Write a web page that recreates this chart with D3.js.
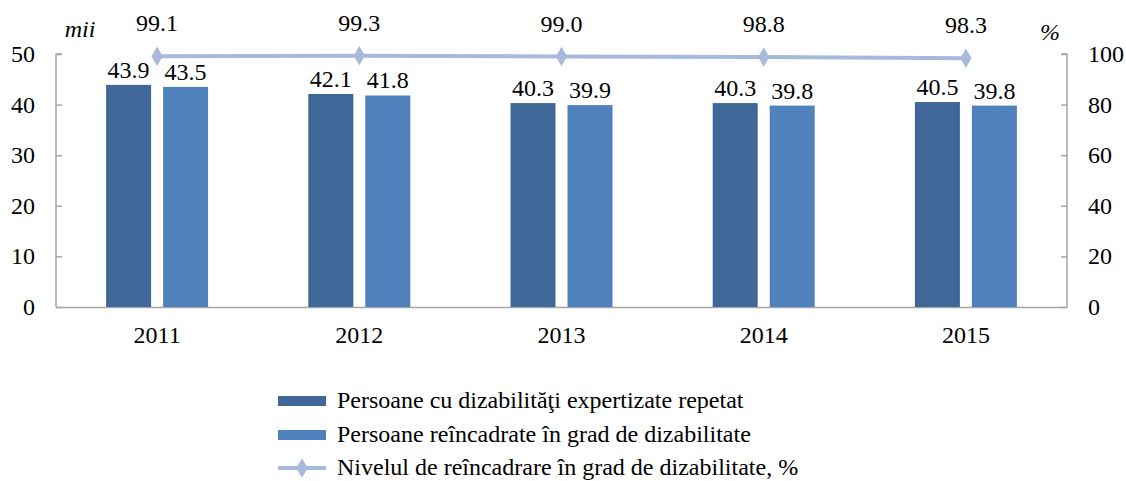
<!DOCTYPE html>
<html><head><meta charset="utf-8">
<script src="https://cdn.jsdelivr.net/npm/d3@7"></script>
<style>body{margin:0;background:#fff}</style>
</head><body><svg id="c" width="1126" height="481"></svg>
<script>
const years = ["2011","2012","2013","2014","2015"];
const repeated = [43.9,42.1,40.3,40.3,40.5];
const reclassified = [43.5,41.8,39.9,39.8,39.8];
const level = [99.1,99.3,99.0,98.8,98.3];
const leftTicks = [0,10,20,30,40,50];
const rightTicks = [0,20,40,60,80,100];
const seriesNames = ["Persoane cu dizabilităţi expertizate repetat","Persoane reîncadrate în grad de dizabilitate","Nivelul de reîncadrare în grad de dizabilitate, %"];
const colors = ["#3F6899","#4F81BD","#A7BADB"];

const FONT = "'Liberation Serif', 'Times New Roman', serif";
const FS = 24;
const svg = d3.select("#c");
const L=56, R=1067, T=54, B=307;
const x = d3.scaleBand().domain(years).range([L,R]);
const yL = d3.scaleLinear().domain([0,50]).range([B,T]);
const yR = d3.scaleLinear().domain([0,100]).range([B,T]);
const barW=45, gap=12;
const axisCol="#A6A6A6";
function txt(sel){ return sel.attr("font-family",FONT).attr("font-size",FS).attr("fill","#000"); }

// axes
const gl = svg.append("g").attr("transform",`translate(${L},0)`)
  .call(d3.axisRight(yL).tickValues(leftTicks).tickSize(6).tickFormat(""));
gl.select(".domain").attr("stroke",axisCol).attr("stroke-width",1.5).attr("d",`M6,${T}H0V${B}`);
gl.selectAll(".tick line").attr("stroke",axisCol).attr("stroke-width",1.5);
txt(svg.append("g").selectAll("text").data(leftTicks).join("text")
  .attr("x",35).attr("y",d=>yL(d)+8).attr("text-anchor","end").text(d=>d));

const gr = svg.append("g").attr("transform",`translate(${R},0)`)
  .call(d3.axisLeft(yR).tickValues(rightTicks).tickSize(6).tickFormat(""));
gr.select(".domain").attr("stroke",axisCol).attr("stroke-width",1.5).attr("d",`M-6,${T}H0V${B}`);
gr.selectAll(".tick line").attr("stroke",axisCol).attr("stroke-width",1.5);
txt(svg.append("g").selectAll("text").data(rightTicks).join("text")
  .attr("x",1088).attr("y",d=>yR(d)+8).attr("text-anchor","start").text(d=>d));

const gb = svg.append("g").attr("transform",`translate(0,${B})`)
  .call(d3.axisBottom(x).tickSize(0).tickFormat(""));
gb.select(".domain").attr("stroke",axisCol).attr("stroke-width",1.5);
txt(svg.append("g").selectAll("text").data(years).join("text")
  .attr("x",d=>x(d)+x.bandwidth()/2).attr("y",343).attr("text-anchor","middle").text(d=>d));

txt(svg.append("text").attr("x",80).attr("y",37).attr("text-anchor","middle").attr("font-style","italic").text("mii"));
txt(svg.append("text").attr("x",1050).attr("y",40).attr("text-anchor","middle").attr("font-style","italic").text("%"));

// bars
const cx = d=>x(d)+x.bandwidth()/2;
[repeated,reclassified].forEach((vals,si)=>{
  const off = si===0 ? -gap/2-barW : gap/2;
  const g = svg.append("g");
  g.selectAll("rect").data(years).join("rect")
    .attr("x",d=>cx(d)+off).attr("width",barW)
    .attr("y",(d,i)=>yL(vals[i])).attr("height",(d,i)=>B-yL(vals[i]))
    .attr("fill",colors[si]);
  txt(g.selectAll("text").data(years).join("text")
    .attr("x",d=>cx(d)+off+barW/2).attr("y",(d,i)=>yL(vals[i])-7)
    .attr("text-anchor","middle").text((d,i)=>vals[i].toFixed(1)));
});

// line
const line = d3.line().x((d,i)=>cx(years[i])).y(d=>yR(d));
svg.append("path").datum(level).attr("d",line).attr("fill","none").attr("stroke",colors[2]).attr("stroke-width",4);
const sym = d3.symbol().type(d3.symbolDiamond).size(110);
svg.append("g").selectAll("path").data(level).join("path")
  .attr("d",sym).attr("transform",(d,i)=>`translate(${cx(years[i])},${yR(d)})`).attr("fill",colors[2]);
txt(svg.append("g").selectAll("text").data(level).join("text")
  .attr("x",(d,i)=>cx(years[i])).attr("y",(d,i)=>yR(d)-25)
  .attr("text-anchor","middle").text(d=>d.toFixed(1)));

// legend
const lg = svg.append("g");
const ly=[401,435,468];
[0,1].forEach(i=>{
  lg.append("rect").attr("x",278).attr("y",ly[i]-5).attr("width",48).attr("height",10).attr("fill",colors[i]);
});
lg.append("line").attr("x1",278).attr("x2",326).attr("y1",ly[2]).attr("y2",ly[2]).attr("stroke",colors[2]).attr("stroke-width",4);
lg.append("path").attr("d",sym).attr("transform",`translate(302,${ly[2]})`).attr("fill",colors[2]);
seriesNames.forEach((n,i)=>{
  txt(lg.append("text").attr("x",337).attr("y",ly[i]+7).text(n));
});
</script></body></html>
